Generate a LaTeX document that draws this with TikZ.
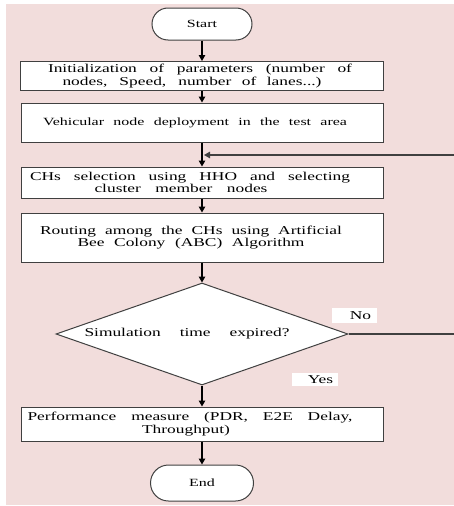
\documentclass[tikz,border=0pt]{standalone}
\usepackage{fontspec}
\setmainfont{Liberation Serif}[FakeStretch=1.45]
\usetikzlibrary{shapes,arrows.meta,positioning}

\definecolor{bgpink}{RGB}{242,221,220}
\definecolor{edgegray}{RGB}{64,64,64}

% stretch one line of text to a given width (in pt);
% the optional rule on the right pushes the line a little to the left
\newcommand{\fitline}[3][0]{\makebox[#2pt][s]{#3}\rule{#1pt}{0pt}}

\tikzset{
    procbox/.style={draw=edgegray, line width=1pt, fill=white, minimum width=362pt,
        inner sep=0pt, align=center, font=\fontsize{12}{12.5}\selectfont},
    termnode/.style={draw=edgegray, line width=1pt, fill=white, rounded corners=16pt,
        inner sep=0pt, font=\fontsize{11}{12}\selectfont},
    decision/.style={draw=edgegray, line width=1pt, fill=white, shape=diamond,
        aspect=2.86, inner sep=0pt, minimum width=292pt, minimum height=102pt,
        font=\fontsize{12}{12.5}\selectfont},
    answer/.style={fill=white, inner sep=0pt, font=\fontsize{12}{12.5}\selectfont},
    flowarrow/.style={line width=1.2pt, -{Triangle[length=6pt,width=6.5pt]}}
}

\begin{document}
\begin{tikzpicture}[x=1pt, y=-1pt]
    \useasboundingbox (0,0) rectangle (454,506);
    % pink page behind the chart
    \fill[bgpink] (6,4) rectangle (454,505);

    % terminals and process boxes, top to bottom
    \node[termnode, minimum width=100pt, minimum height=32pt] (start) at (202,24) {Start};
    \node[procbox, minimum width=363pt, minimum height=29pt] (init) at (202,76)
        {\fitline[4]{304}{Initialization of parameters (number of}\\
         \fitline[20]{259}{nodes, Speed, number of lanes...)}};
    \node[procbox, minimum height=39pt, font=\fontsize{11}{12}\selectfont] (deploy) at (202,122.5)
        {\fitline[14]{304}{Vehicular node deployment in the test area}};
    \node[procbox, minimum height=31pt] (chsel) at (202,182.5)
        {\fitline[24]{320}{CHs selection using HHO and selecting}\\
         \fitline[42]{173}{cluster member nodes}};
    \node[procbox, minimum height=49pt] (route) at (202,237.5)
        {\fitline[22]{302}{Routing among the CHs using Artificial}\\
         \fitline[22]{227}{Bee Colony (ABC) Algorithm}};
    \node[decision] (simtime) at (202,334) {\fitline[30]{205}{Simulation time expired?}};
    \node[procbox, minimum height=34pt] (perf) at (202,424)
        {\fitline[24]{325}{Performance measure (PDR, E2E Delay,}\\
         Throughput)\rule{32pt}{0pt}};
    \node[termnode, minimum width=103pt, minimum height=36pt, rounded corners=18pt] (end) at (202,483) {End};

    % branch labels
    \node[answer, minimum width=45pt, minimum height=15pt] (no) at (354.5,315.5) {\hspace*{12pt}No};
    \node[answer, minimum width=46pt, minimum height=13pt] (yes) at (315,379.5) {\hspace*{11pt}Yes};

    % main flow
    \draw[flowarrow] (start) -- (init);
    \draw[flowarrow] (init) -- (deploy);
    \draw[flowarrow] (deploy) -- (chsel);
    \draw[flowarrow] (chsel) -- (route);
    \draw[flowarrow] (route) -- (simtime);
    \draw[flowarrow] (simtime) -- (perf);
    \draw[flowarrow] (perf) -- (end);

    % loop back when time is not over
    \coordinate (join) at (203,155);
    \draw[flowarrow, draw=edgegray, shorten >=1pt] (simtime.east) -- (460,334) |- (join);
\end{tikzpicture}
\end{document}
